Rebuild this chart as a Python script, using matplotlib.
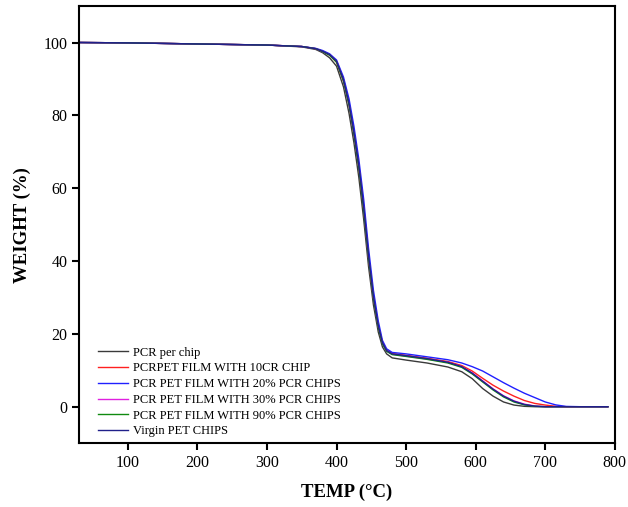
import matplotlib
matplotlib.use('Agg')
import matplotlib.pyplot as plt

plt.rcParams['font.family'] = ['Liberation Serif', 'DejaVu Serif']

# temperature (deg C) and weight (%)
temp = [30, 100, 200, 300, 350, 370, 380, 390, 400, 410, 418, 425, 432, 439, 446,
        453, 460, 466, 472, 480, 500, 530, 560, 580, 595, 610, 625, 640, 655, 670,
        685, 700, 715, 730, 750, 790]

pcr_chip = [100, 99.9, 99.6, 99.3, 98.8, 98.1, 97.2, 95.8, 93.5, 87.8, 80.5, 72.5, 63.0,
            51.5, 38.5, 28.0, 20.5, 16.4, 14.5, 13.4, 12.8, 12.0, 10.9, 9.6, 7.7, 5.0,
            2.9, 1.3, 0.45, 0.1, 0.0, 0.0, 0.0, 0.0, 0.0, 0.0]
film_10 = [100, 99.9, 99.6, 99.3, 98.9, 98.3, 97.6, 96.6, 94.6, 89.4, 83.0, 75.0, 65.8,
           54.3, 41.0, 30.0, 22.0, 17.5, 15.5, 14.6, 14.1, 13.3, 12.4, 11.3, 9.8, 7.8,
           5.9, 4.3, 2.9, 1.7, 0.9, 0.45, 0.12, 0.0, 0.0, 0.0]
film_20 = [100, 99.9, 99.6, 99.3, 98.9, 98.4, 97.8, 96.9, 95.2, 90.5, 84.5, 77.0, 68.0,
           57.0, 43.5, 32.0, 23.5, 18.2, 15.9, 14.9, 14.5, 13.7, 12.9, 12.0, 11.0, 9.8,
           8.2, 6.6, 5.1, 3.7, 2.5, 1.3, 0.5, 0.08, 0.0, 0.0]
film_30 = [100, 99.9, 99.6, 99.3, 98.9, 98.3, 97.5, 96.6, 94.8, 89.6, 83.0, 75.0, 66.0,
           54.5, 41.0, 30.0, 22.0, 17.5, 15.3, 14.4, 13.9, 13.1, 12.2, 11.0, 9.3, 7.1,
           4.9, 3.0, 1.6, 0.7, 0.2, 0.0, 0.0, 0.0, 0.0, 0.0]
film_90 = [100, 99.9, 99.6, 99.3, 98.9, 98.3, 97.5, 96.5, 94.6, 89.4, 82.8, 74.8, 65.6,
           54.0, 40.8, 29.8, 21.8, 17.3, 15.2, 14.3, 13.8, 13.0, 12.0, 10.8, 9.0, 6.8,
           4.6, 2.7, 1.3, 0.5, 0.1, 0.0, 0.0, 0.0, 0.0, 0.0]
virgin = [100, 99.9, 99.6, 99.3, 98.9, 98.3, 97.6, 96.7, 94.9, 89.8, 83.3, 75.4, 66.4,
          55.0, 41.6, 30.4, 22.3, 17.6, 15.4, 14.5, 14.0, 13.2, 12.2, 11.0, 9.2, 7.0,
          4.8, 2.9, 1.5, 0.6, 0.15, 0.0, 0.0, 0.0, 0.0, 0.0]

series = [
    ('PCR per chip', pcr_chip, '#3a3a3a'),
    ('PCRPET FILM WITH 10CR CHIP', film_10, '#ff2020'),
    ('PCR PET FILM WITH 20% PCR CHIPS', film_20, '#2020ff'),
    ('PCR PET FILM WITH 30% PCR CHIPS', film_30, '#e020e0'),
    ('PCR PET FILM WITH 90% PCR CHIPS', film_90, '#108a10'),
    ('Virgin PET CHIPS', virgin, '#20208a'),
]

fig = plt.figure(figsize=(6.28, 5.07), dpi=100)
ax = fig.add_axes([0.126, 0.126, 0.853, 0.862])

for label, w, c in series:
    ax.plot(temp, w, color=c, lw=1.0, label=label)

ax.set_xlim(30, 800)
ax.set_ylim(-10, 110)
ax.set_xticks(range(100, 801, 100))
ax.set_yticks(range(0, 101, 20))
ax.tick_params(direction='out', length=5, width=1.5, labelsize=11.5, top=False, right=False)
for s in ax.spines.values():
    s.set_linewidth(1.5)

ax.set_xlabel('TEMP (°C)', fontsize=13.5, fontweight='bold', labelpad=9)
ax.set_ylabel('WEIGHT (%)', fontsize=13.5, fontweight='bold', labelpad=9)

ax.legend(loc='upper left', bbox_to_anchor=(0.025, 0.232), frameon=False, fontsize=9,
          handlelength=2.4, handletextpad=0.4, labelspacing=0.3, borderaxespad=0)

fig.savefig('out.png', dpi=100)
